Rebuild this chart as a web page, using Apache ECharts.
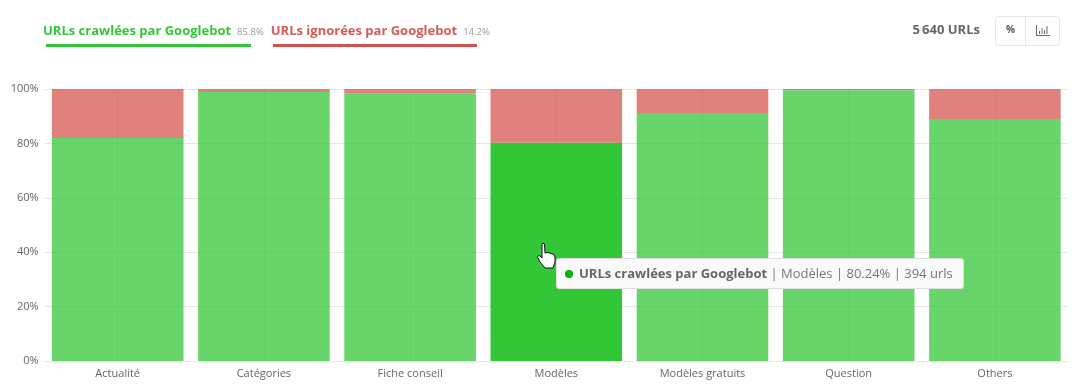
<!DOCTYPE html>
<html><head><meta charset="utf-8">
<style>html,body{margin:0;padding:0;background:#fff}#c{width:1088px;height:390px}</style>
<script src="https://cdn.jsdelivr.net/npm/echarts@6/dist/echarts.min.js"></script>
</head><body><div id="c"></div>
<script>
const categories = ['Actualité','Catégories','Fiche conseil','Modèles','Modèles gratuits','Question','Others'];
const crawledName = 'URLs crawlées par Googlebot';
const ignoredName = 'URLs ignorées par Googlebot';
const crawled = [82, 98.9, 98.4, 80.24, 91.2, 99.5, 89];
const ignored = [18, 1.1, 1.6, 19.76, 8.8, 0.5, 11];
const crawledShare = '85.8%';
const ignoredShare = '14.2%';
const totalLabel = '5\u2009640 URLs';
const hoveredIndex = 3;
const hoveredUrls = 394;
const GREEN = '#33c737', RED = '#d4504c';
const FONT = '"Open Sans"';

const chart = echarts.init(document.getElementById('c'), null, {renderer:'canvas'});
const styled = (vals, hoverable) => vals.map((v,i) => (hoverable && i===hoveredIndex)
  ? {value:v, itemStyle:{opacity:1}} : {value:v});
const iconLine = (x1,y1,x2,y2) => ({type:'line',shape:{x1,y1,x2,y2},style:{stroke:'#5b6b80',lineWidth:1},silent:true});

chart.setOption({
  animation:false,
  textStyle:{fontFamily:FONT},
  grid:{left:44.6, right:20, top:89, bottom:29},
  legend:{
    left:38, top:25, icon:'none', itemWidth:0, itemHeight:0, itemGap:2, selectedMode:false,
    padding:[0,0,0,0],
    data:[crawledName, ignoredName],
    formatter:n => n===crawledName ? `{g|${n}}{p|${crawledShare}}` : `{r|${n}}{p|${ignoredShare}}`,
    textStyle:{rich:{
      g:{fontFamily:FONT,fontSize:13,fontWeight:'bold',color:GREEN,padding:[0,6,0,0]},
      r:{fontFamily:FONT,fontSize:13,fontWeight:'bold',color:'#d65a57',padding:[0,6,0,0]},
      p:{fontFamily:FONT,fontSize:9.5,color:'#9a9a9a',padding:[2,0,0,0]}
    }}
  },
  tooltip:{
    trigger:'item', alwaysShowContent:true, transitionDuration:0, showDelay:0,
    backgroundColor:'#fafafa', borderColor:'#dfdfdf', borderWidth:1, borderRadius:3,
    padding:[5,10,5,8], extraCssText:'box-shadow:none;line-height:19px;white-space:nowrap;box-sizing:border-box;height:31px',
    textStyle:{fontFamily:FONT,fontSize:13,color:'#777'},
    position:[556,258],
    formatter:p => `<span style="display:inline-block;width:8px;height:8px;border-radius:50%;background:#00b400;margin-right:6px"></span>`+
      `<b style="color:#666">${p.seriesName}</b> | ${p.name} | ${p.value.toFixed(2)}% | ${hoveredUrls} urls`
  },
  xAxis:{
    type:'category', data:categories,
    axisLine:{lineStyle:{color:'#e6e6e6'}}, axisTick:{show:false},
    axisLabel:{color:'#666',fontSize:11,margin:7,fontFamily:FONT},
    splitLine:{show:true,alignWithLabel:true,lineStyle:{color:'#e6e6e6'}}
  },
  yAxis:{
    type:'value', min:0, max:100, interval:20,
    axisLine:{show:false}, axisTick:{show:false},
    axisLabel:{formatter:'{value}%',color:'#666',fontSize:11,margin:6,fontFamily:FONT,lineHeight:15,padding:[3,0,0,0]},
    splitLine:{lineStyle:{color:'#e6e6e6'}}
  },
  series:[
    {name:crawledName,type:'bar',stack:'a',barCategoryGap:'10%',data:styled(crawled,true),
      itemStyle:{color:GREEN,opacity:0.74},emphasis:{disabled:true}},
    {name:ignoredName,type:'bar',stack:'a',barCategoryGap:'10%',data:styled(ignored,false),
      itemStyle:{color:RED,opacity:0.72},emphasis:{disabled:true}}
  ],
  graphic:[
    {type:'rect',shape:{x:46,y:44,width:205,height:3},style:{fill:GREEN},silent:true},
    {type:'rect',shape:{x:273,y:44,width:204,height:3},style:{fill:'#d4504c'},silent:true},
    {type:'text',style:{x:980,y:30,text:totalLabel,align:'right',verticalAlign:'middle',font:'bold 13px '+FONT,fill:'#666'},silent:true},
    {type:'rect',shape:{x:995.5,y:16.5,width:64,height:29,r:3},style:{fill:'#fff',stroke:'#e4e7ea',lineWidth:1},silent:true},
    {type:'line',shape:{x1:1025.5,y1:17,x2:1025.5,y2:45},style:{stroke:'#e4e7ea',lineWidth:1},silent:true},
    {type:'text',style:{x:1010.5,y:30.5,text:'%',align:'center',verticalAlign:'middle',font:'bold 10px '+FONT,fill:'#555'},silent:true},
    iconLine(1036.5,25,1036.5,36), iconLine(1036,35.5,1050,35.5),
    iconLine(1039.5,34,1039.5,31), iconLine(1042,34,1042,28), iconLine(1044.5,34,1044.5,30), iconLine(1047,34,1047,26),
    {type:'polygon',z:50,silent:true,
      shape:{points:[[542,244],[543,243],[544.5,244],[545,253],[548,252.5],[551,253.5],[554,254.5],[555,257],[555,262],[553,268],[545,268],[540,262],[537.5,257],[538.5,255.5],[540,256],[542,258]]},
      style:{fill:'#fff',stroke:'#111',lineWidth:1}}
  ]
});
chart.dispatchAction({type:'showTip',seriesIndex:0,dataIndex:hoveredIndex});
</script></body></html>
